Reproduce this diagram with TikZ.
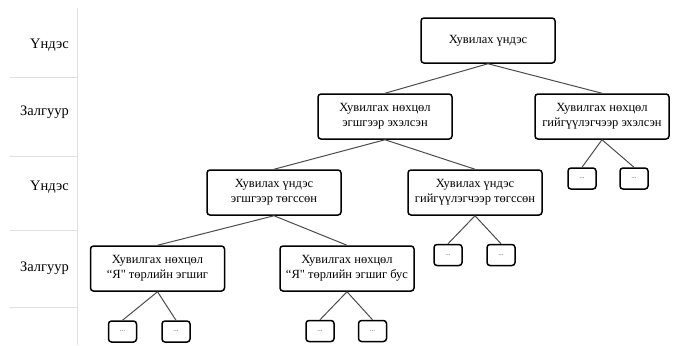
\documentclass[tikz,border=0pt]{standalone}
\usepackage{fontspec}
\setmainfont{Liberation Serif}
\newfontfamily\timesfont{Liberation Serif}
\begin{document}
\begin{tikzpicture}[x=1bp,y=-1bp,
  bigbox/.style={draw=black,line width=1.5bp,rounded corners=3bp,minimum width=134bp,minimum height=45bp,inner sep=0pt,align=center,font=\timesfont\fontsize{12.5bp}{15bp}\selectfont,fill=white},
  smallbox/.style={draw=black,line width=1.5bp,rounded corners=3bp,minimum width=28bp,minimum height=21bp,inner sep=0pt,font=\timesfont\fontsize{7bp}{8bp}\selectfont,text=black!70},
  link/.style={draw=black!70,line width=1bp},
  grid/.style={draw=black!12,line width=0.8bp},
  rowlabel/.style={anchor=east,inner sep=0pt,font=\timesfont\fontsize{14.5bp}{17bp}\selectfont}]
\useasboundingbox (0,0) rectangle (683,345);
% left grid
\coordinate (v1) at (77,8);
\coordinate (v2) at (77,345);
\draw[grid] (v1) -- (v2);
\foreach \yy in {77,156,230,307}{
  \draw[grid] (10,\yy) -- (77,\yy);
}
\node[rowlabel] (r1) at (69,45) {Үндэс};
\node[rowlabel] (r2) at (69,112) {Залгуур};
\node[rowlabel] (r3) at (69,187) {Үндэс};
\node[rowlabel] (r4) at (69,268) {Залгуур};
% tree nodes
\node[bigbox] (root) at (488,40.5) {Хувилах үндэс};
\node[bigbox] (l1) at (385,116.5) {Хувилгах нөхцөл\\эгшгээр эхэлсэн};
\node[bigbox] (r1n) at (602,116.5) {Хувилгах нөхцөл\\гийгүүлэгчээр эхэлсэн};
\node[bigbox] (l2a) at (274,192.5) {Хувилах үндэс\\эгшгээр төгссөн};
\node[bigbox] (l2b) at (475,192.5) {Хувилах үндэс\\гийгүүлэгчээр төгссөн};
\node[bigbox] (l3a) at (157.5,268.5) {Хувилгах нөхцөл\\“Я" төрлийн эгшиг};
\node[bigbox] (l3b) at (347,268.5) {Хувилгах нөхцөл\\“Я" төрлийн эгшиг бус};
\node[smallbox] (s1) at (582,178.5) {...};
\node[smallbox] (s2) at (634,178.5) {...};
\node[smallbox] (s3) at (448,255) {...};
\node[smallbox] (s4) at (501,255) {...};
\node[smallbox] (s5) at (122.5,331.5) {...};
\node[smallbox] (s6) at (176,331.5) {...};
\node[smallbox] (s7) at (320,331) {...};
\node[smallbox] (s8) at (372.5,331) {...};
% connectors
\draw[link] (root.south) -- (l1.north);
\draw[link] (root.south) -- (r1n.north);
\draw[link] (l1.south) -- (l2a.north);
\draw[link] (l1.south) -- (l2b.north);
\draw[link] (r1n.south) -- (s1.north);
\draw[link] (r1n.south) -- (s2.north);
\draw[link] (l2a.south) -- (l3a.north);
\draw[link] (l2a.south) -- (l3b.north);
\draw[link] (l2b.south) -- (s3.north);
\draw[link] (l2b.south) -- (s4.north);
\draw[link] (l3a.south) -- (s5.north);
\draw[link] (l3a.south) -- (s6.north);
\draw[link] (l3b.south) -- (s7.north);
\draw[link] (l3b.south) -- (s8.north);
\end{tikzpicture}
\end{document}
